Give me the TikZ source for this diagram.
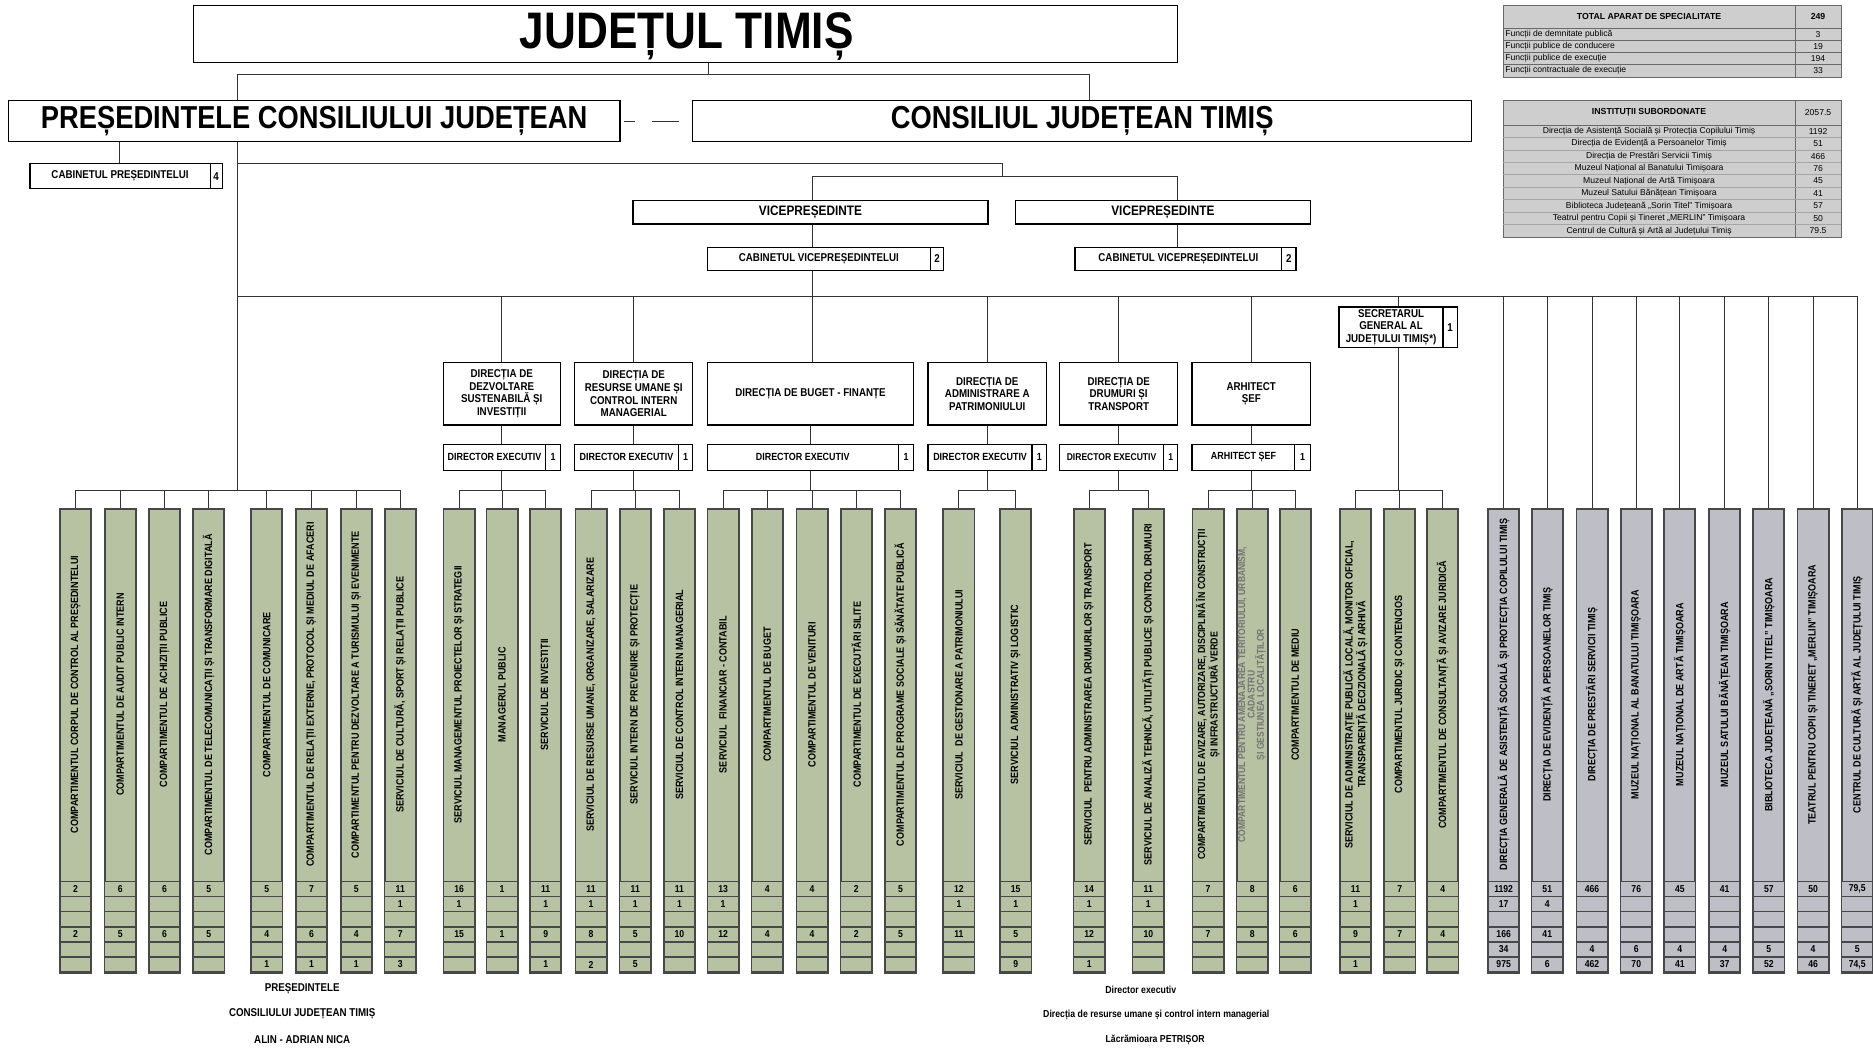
\documentclass[tikz,border=0pt]{standalone}
\usepackage{fontspec}
\setmainfont{Liberation Sans}
\newfontfamily\nar[FakeStretch=0.86]{Liberation Sans}
\usetikzlibrary{calc}
\definecolor{sage}{RGB}{182,194,162}
\definecolor{lav}{RGB}{190,190,198}
\definecolor{frame}{RGB}{72,72,72}
\definecolor{tabfill}{RGB}{206,206,206}
\definecolor{tabline}{RGB}{105,105,105}
\newcommand\fTitle{\nar\bfseries\fontsize{43}{44}\selectfont}
\newcommand\fBig{\nar\bfseries\fontsize{26.6}{27}\selectfont}
\newcommand\fVice{\nar\bfseries\fontsize{11.5}{12}\selectfont}
\tikzset{
 wbox/.style={draw=black, line width=1.1pt, fill=white, inner sep=0pt},
 conn/.style={draw=black!80, line width=0.8pt},
 colframe/.style={draw=frame, line width=1.6pt, minimum width=26pt, minimum height=388.8pt, inner sep=0pt},
 collabel/.style={rotate=90, align=center, font=\nar\bfseries\fontsize{8.8}{9.4}\selectfont, inner sep=0pt},
 numcell/.style={draw=frame, line width=1.2pt, minimum width=26pt, minimum height=12.63pt, inner sep=0pt, font=\nar\bfseries\fontsize{8.4}{8.4}\selectfont},
 smalltxt/.style={font=\nar\bfseries\fontsize{9.5}{10.6}\selectfont, align=center, inner sep=0pt},
 tabbox/.style={draw=tabline, line width=0.9pt, fill=tabfill, inner sep=0pt},
 tabrule/.style={draw=tabline, line width=0.6pt},
 tabhead/.style={font=\bfseries\fontsize{7.3}{7.3}\selectfont, inner sep=0pt},
 tabrow/.style={font=\fontsize{7.2}{7.2}\selectfont, inner sep=0pt},
 bottxt/.style={font=\nar\bfseries\fontsize{9.5}{9.5}\selectfont, inner sep=0pt},
}
% box with a number cell: [text opts]{name}{x1}{y1}{x2}{y2}{divider x}{text}{number}
\newcommand\numbox[9][]{%
  \node[wbox, minimum width={(#5-#3)*1pt}, minimum height={(#6-#4)*1pt}] (#2) at ({(#3+#5)/2},{(#4+#6)/2}) {};
  \draw[line width=1pt] (#7,#4) -- (#7,#6);
  \node[smalltxt,#1] at ({(#3+#7)/2},{(#4+#6)/2}) {#8};
  \node[smalltxt,#1] at ({(#7+#5)/2},{(#4+#6)/2}) {#9};
}
% vertical column: [label opts]{name}{left x}{fill}{label}{six numbers}
\newcommand\colbox[6][]{%
  \node[colframe, fill=#4, anchor=north west] (#2) at (#3,425) {};
  \node[collabel,#1] at ($(#2.north)+(0,156.5)$) {#5};
  \foreach \v [count=\k] in {#6} {%
    \node[numcell, fill=#4] at ($(#2.north)+(0,{313+(\k-0.5)*12.63})$) {\v};
  }%
}
\begin{document}
\begin{tikzpicture}[x=1pt,y=-1pt]
\fill[white] (0,0) rectangle (1568,877);
\useasboundingbox (0,0) rectangle (1568,877);

% ---------- top boxes
\node[wbox, minimum width=824pt, minimum height=47.5pt] (title) at (574,28.3) {};
\node[inner sep=0pt] (titletxt) at (575,30.5) {\fTitle JUDEȚUL TIMIȘ};
\node[wbox, minimum width=512pt, minimum height=34.6pt] (pres) at (263,101.3) {\fBig PREȘEDINTELE CONSILIULUI JUDEȚEAN};
\node[wbox, minimum width=652pt, minimum height=34.6pt] (cons) at (906,101.3) {\fBig CONSILIUL JUDEȚEAN TIMIȘ};
\numbox{cabp}{25}{137}{186}{158}{176}{CABINETUL PREȘEDINTELUI}{4}
\node[wbox, minimum width=297pt, minimum height=19.6pt] (vice1) at (678.5,177.6) {\fVice VICEPREȘEDINTE};
\node[wbox, minimum width=247pt, minimum height=19.6pt] (vice2) at (973.5,177.6) {\fVice VICEPREȘEDINTE};
\numbox{cabv1}{592}{207}{790}{226.5}{779}{CABINETUL VICEPREȘEDINTELUI}{2}
\numbox{cabv2}{900}{207}{1085}{226.5}{1073}{CABINETUL VICEPREȘEDINTELUI}{2}
\numbox{sec}{1121}{257}{1220}{291}{1208}{SECRETARUL\\GENERAL AL\\JUDEȚULUI TIMIȘ*)}{1}

% ---------- directions
\node[wbox, smalltxt, minimum width=98pt, minimum height=52pt] (dir1) at (420,329.7) {DIRECȚIA DE\\DEZVOLTARE\\SUSTENABILĂ ȘI\\INVESTIȚII};
\node[wbox, smalltxt, minimum width=99pt, minimum height=52pt] (dir2) at (530.5,329.7) {DIRECȚIA DE\\RESURSE UMANE ȘI\\CONTROL INTERN\\MANAGERIAL};
\node[wbox, smalltxt, minimum width=173pt, minimum height=52pt] (dir3) at (678.5,329.7) {DIRECȚIA DE BUGET - FINANȚE};
\node[wbox, smalltxt, minimum width=99pt, minimum height=52pt] (dir4) at (826.5,329.7) {DIRECȚIA DE\\ADMINISTRARE A\\PATRIMONIULUI};
\node[wbox, smalltxt, minimum width=99pt, minimum height=52pt] (dir5) at (936.5,329.7) {DIRECȚIA DE\\DRUMURI ȘI\\TRANSPORT};
\node[wbox, smalltxt, minimum width=99pt, minimum height=52pt] (dir6) at (1047.5,329.7) {ARHITECT\\ȘEF};

\numbox[font=\nar\bfseries\fontsize{8.7}{9}\selectfont]{de1}{371}{372}{469}{393.7}{457}{DIRECTOR EXECUTIV}{1}
\numbox[font=\nar\bfseries\fontsize{8.7}{9}\selectfont]{de2}{481}{372}{580}{393.7}{568}{DIRECTOR EXECUTIV}{1}
\numbox[font=\nar\bfseries\fontsize{8.7}{9}\selectfont]{de3}{592}{372}{765}{393.7}{752}{DIRECTOR EXECUTIV}{1}
\numbox[font=\nar\bfseries\fontsize{8.7}{9}\selectfont]{de4}{777}{372}{876}{393.7}{864}{DIRECTOR EXECUTIV}{1}
\numbox[font=\nar\bfseries\fontsize{8.3}{9}\selectfont]{de5}{887}{372}{986}{393.7}{974}{DIRECTOR EXECUTIV}{1}
\numbox[font=\nar\bfseries\fontsize{8.7}{9}\selectfont]{de6}{998}{372}{1097}{393.7}{1084}{ARHITECT ȘEF}{1}

% ---------- columns
\colbox{c1}{49.5}{sage}{COMPARTIMENTUL CORPUL DE CONTROL AL PREȘEDINTELUI}{2,{},{},2,{},{}}
\colbox{c2}{86.8}{sage}{COMPARTIMENTUL DE AUDIT PUBLIC INTERN}{6,{},{},5,{},{}}
\colbox{c3}{124}{sage}{COMPARTIMENTUL DE ACHIZIȚII PUBLICE}{6,{},{},6,{},{}}
\colbox{c4}{161}{sage}{COMPARTIMENTUL DE TELECOMUNICAȚII ȘI TRANSFORMARE DIGITALĂ}{5,{},{},5,{},{}}
\colbox{c5}{209.5}{sage}{COMPARTIMENTUL DE COMUNICARE}{5,{},{},4,{},1}
\colbox{c6}{247}{sage}{COMPARTIMENTUL DE RELAȚII EXTERNE, PROTOCOL ȘI MEDIUL DE AFACERI}{7,{},{},6,{},1}
\colbox{c7}{284.5}{sage}{COMPARTIMENTUL PENTRU DEZVOLTARE A TURISMULUI ȘI EVENIMENTE}{5,{},{},4,{},1}
\colbox{c8}{321.3}{sage}{SERVICIUL DE CULTURĂ, SPORT ȘI RELAȚII PUBLICE}{11,1,{},7,{},3}
\colbox{c9}{370.5}{sage}{SERVICIUL MANAGEMENTUL PROIECTELOR ȘI STRATEGII}{16,1,{},15,{},{}}
\colbox{c10}{406.5}{sage}{MANAGERUL PUBLIC}{1,{},{},1,{},{}}
\colbox{c11}{443}{sage}{SERVICIUL DE INVESTIȚII}{11,1,{},9,{},1}
\colbox{c12}{481}{sage}{SERVICIUL DE RESURSE UMANE, ORGANIZARE, SALARIZARE}{11,1,{},8,{},2}
\colbox{c13}{518}{sage}{SERVICIUL INTERN DE PREVENIRE ȘI PROTECȚIE}{11,1,{},5,{},5}
\colbox{c14}{555}{sage}{SERVICIUL DE CONTROL INTERN MANAGERIAL}{11,1,{},10,{},{}}
\colbox{c15}{591.5}{sage}{SERVICIUL\ \ FINANCIAR - CONTABIL}{13,1,{},12,{},{}}
\colbox{c16}{628.5}{sage}{COMPARTIMENTUL DE BUGET}{4,{},{},4,{},{}}
\colbox{c17}{666}{sage}{COMPARTIMENTUL DE VENITURI}{4,{},{},4,{},{}}
\colbox{c18}{703}{sage}{COMPARTIMENTUL DE EXECUTĂRI SILITE}{2,{},{},2,{},{}}
\colbox{c19}{740}{sage}{COMPARTIMENTUL DE PROGRAME SOCIALE ȘI SĂNĂTATE PUBLICĂ}{5,{},{},5,{},{}}
\colbox{c20}{789}{sage}{SERVICIUL\ \ DE GESTIONARE A PATRIMONIULUI}{12,1,{},11,{},{}}
\colbox{c21}{836.5}{sage}{SERVICIUL\ \ ADMINISTRATIV ȘI LOGISTIC}{15,1,{},5,{},9}
\colbox{c22}{898}{sage}{SERVICIUL\ \ PENTRU ADMINISTRAREA DRUMURILOR ȘI TRANSPORT}{14,1,{},12,{},1}
\colbox{c23}{947.5}{sage}{SERVICIUL DE ANALIZĂ TEHNICĂ, UTILITĂȚI PUBLICE ȘI CONTROL DRUMURI}{11,1,{},10,{},{}}
\colbox[font=\nar\bfseries\fontsize{8.6}{9}\selectfont]{c24}{997.5}{sage}{COMPARTIMENTUL DE AVIZARE, AUTORIZARE, DISCIPLINĂ ÎN CONSTRUCȚII\\ȘI INFRASTRUCTURĂ VERDE}{7,{},{},7,{},{}}
\colbox[text=black!55, font=\nar\bfseries\fontsize{8.3}{7.9}\selectfont]{c25}{1034.5}{sage}{COMPARTIMENTUL PENTRU AMENAJAREA TERITORIULUI, URBANISM,\\CADASTRU\\ȘI GESTIUNEA LOCALITĂȚILOR}{8,{},{},8,{},{}}
\colbox{c26}{1070.5}{sage}{COMPARTIMENTUL DE MEDIU}{6,{},{},6,{},{}}
\colbox{c27}{1121}{sage}{SERVICIUL DE ADMINISTRAȚIE PUBLICĂ LOCALĂ, MONITOR OFICIAL,\\TRANSPARENȚĂ DECIZIONALĂ ȘI ARHIVĂ}{11,1,{},9,{},1}
\colbox{c28}{1158}{sage}{COMPARTIMENTUL JURIDIC ȘI CONTENCIOS}{7,{},{},7,{},{}}
\colbox{c29}{1194}{sage}{COMPARTIMENTUL DE CONSULTANȚĂ ȘI AVIZARE JURIDICĂ}{4,{},{},4,{},{}}
\colbox{g1}{1245}{lav}{DIRECȚIA GENERALĂ DE ASISTENȚĂ SOCIALĂ ȘI PROTECȚIA COPILULUI TIMIȘ}{1192,17,{},166,34,975}
\colbox{g2}{1281.5}{lav}{DIRECȚIA DE EVIDENȚĂ A PERSOANELOR TIMIȘ}{51,4,{},41,{},6}
\colbox{g3}{1319}{lav}{DIRECȚIA DE PRESTĂRI SERVICII TIMIȘ}{466,{},{},{},4,462}
\colbox{g4}{1356}{lav}{MUZEUL NAȚIONAL AL BANATULUI TIMIȘOARA}{76,{},{},{},6,70}
\colbox{g5}{1392.5}{lav}{MUZEUL NAȚIONAL DE ARTĂ TIMIȘOARA}{45,{},{},{},4,41}
\colbox{g6}{1430}{lav}{MUZEUL SATULUI BĂNĂȚEAN TIMIȘOARA}{41,{},{},{},4,37}
\colbox{g7}{1467}{lav}{BIBLIOTECA JUDEȚEANĂ „SORIN TITEL” TIMIȘOARA}{57,{},{},{},5,52}
\colbox{g8}{1504}{lav}{TEATRUL PENTRU COPII ȘI TINERET „MERLIN” TIMIȘOARA}{50,{},{},{},4,46}
\colbox{g9}{1541}{lav}{CENTRUL DE CULTURĂ ȘI ARTĂ AL JUDEȚULUI TIMIȘ}{{79,5},{},{},{},5,{74,5}}

% ---------- tables top right
\node[tabbox, minimum width=283pt, minimum height=59.8pt, anchor=north west] (tab1) at (1258,4.5) {};
\draw[tabrule] (1503,4.5) -- (1503,64.3);
\foreach \yy in {23.7,33.85,44,54.15} \draw[tabrule] (1258,\yy) -- (1541,\yy);
\node[tabhead] at (1380.5,14.1) {TOTAL APARAT DE SPECIALITATE};
\node[tabhead] at (1522,14.1) {249};
\foreach \t/\n [count=\k] in {Funcții de demnitate publică/3, Funcții publice de conducere/19, Funcții publice de execuție/194, Funcții contractuale de execuție/33}{
  \node[tabrow, anchor=west] at (1260,{23.7+(\k-0.5)*10.15}) {\t};
  \node[tabrow] at (1522,{23.7+(\k-0.5)*10.15}) {\n};
}
\node[tabbox, minimum width=283pt, minimum height=114.5pt, anchor=north west] (tab2) at (1258,84) {};
\draw[tabrule] (1503,84) -- (1503,198.5);
\draw[tabrule] (1258,104.7) -- (1541,104.7);
\foreach \k in {1,...,8} \draw[tabrule, draw=tabline!60] (1258,{104.7+\k*10.42}) -- (1541,{104.7+\k*10.42});
\node[tabhead] at (1380.5,94.35) {INSTITUȚII SUBORDONATE};
\node[tabrow] at (1522,94.35) {2057.5};
\foreach \t/\n [count=\k] in {Direcția de Asistență Socială și Protecția Copilului Timiș/1192, Direcția de Evidență a Persoanelor Timiș/51, Direcția de Prestări Servicii Timiș/466, Muzeul Național al Banatului Timișoara/76, Muzeul Național de Artă Timișoara/45, Muzeul Satului Bănățean Timișoara/41, Biblioteca Județeană „Sorin Titel” Timișoara/57, Teatrul pentru Copii și Tineret „MERLIN” Timișoara/50, Centrul de Cultură și Artă al Județului Timiș/79.5}{
  \node[tabrow] at (1380.5,{104.7+(\k-0.5)*10.42}) {\t};
  \node[tabrow] at (1522,{104.7+(\k-0.5)*10.42}) {\n};
}

% ---------- signatures
\node[bottxt] (s1) at (253,828) {PREȘEDINTELE};
\node[bottxt] (s2) at (253,849) {CONSILIULUI JUDEȚEAN TIMIȘ};
\node[bottxt] (s3) at (253,870) {ALIN - ADRIAN NICA};
\node[bottxt, font=\nar\bfseries\fontsize{8.5}{8.5}\selectfont] (s4) at (955,829) {Director executiv};
\node[bottxt, font=\nar\bfseries\fontsize{8.5}{8.5}\selectfont] (s5) at (968,850) {Direcția de resurse umane și control intern managerial};
\node[bottxt, font=\nar\bfseries\fontsize{8.5}{8.5}\selectfont] (s6) at (967,871) {Lăcrămioara PETRIȘOR};

% ---------- connectors
\coordinate (tj) at (593,62.5);
\coordinate (vx) at (199,0);
\coordinate (cnx) at (912,0);
\coordinate (px) at (100,0);
\coordinate (j1) at (199,137);
\coordinate (j2) at (839,147.6);
\coordinate (v1x) at (680,0);
\coordinate (v2x) at (986,0);
\coordinate (mbar) at (0,247.8);
\coordinate (gbar) at (0,411);

\draw[conn] (title.south -| tj) -- (tj);
\draw[conn] (pres.north -| vx) |- (tj) -| (cons.north -| cnx);
\draw[conn, dash pattern=on 0pt off 3pt on 9pt off 14pt on 23pt off 12pt] (pres.east) -- (cons.west);
\draw[conn] (pres.south -| px) -- (cabp.north -| px);
\draw[conn] (pres.south -| vx) -- (gbar -| vx);
\draw[conn] (j1) -| (j2);
\draw[conn] (vice1.north -| v1x) |- (j2) -| (vice2.north -| v2x);
\draw[conn] (vice1.south -| v1x) -- (cabv1.north -| v1x);
\draw[conn] (vice2.south -| v2x) -- (cabv2.north -| v2x);
\draw[conn] (cabv1.south -| v1x) -- (dir3.north -| v1x);
\draw[conn] (mbar -| vx) -- (mbar -| g9.north);
\foreach \d in {dir1,dir2,dir4,dir5,dir6,sec} \draw[conn] (\d.north |- mbar) -- (\d.north);
\foreach \d/\e in {dir1/de1,dir2/de2,dir3/de3,dir4/de4,dir5/de5,dir6/de6} {
  \draw[conn] (\d.south) -- (\e.north -| \d.south);
  \draw[conn] (\e.south) -- (\e.south |- gbar);
}
\draw[conn] (sec.south) -- (sec.south |- gbar);
\foreach \a/\b in {c1/c8,c9/c11,c12/c14,c15/c19,c20/c21,c22/c23,c24/c26,c27/c29}
  \draw[conn] (\a.north) |- (\b.north |- gbar) -- (\b.north);
\foreach \c in {c2,c3,c4,c5,c6,c7,c10,c13,c16,c17,c18,c25,c28}
  \draw[conn] (\c.north) -- (\c.north |- gbar);
\foreach \g in {g1,g2,g3,g4,g5,g6,g7,g8,g9}
  \draw[conn] (\g.north |- mbar) -- (\g.north);
\end{tikzpicture}
\end{document}
